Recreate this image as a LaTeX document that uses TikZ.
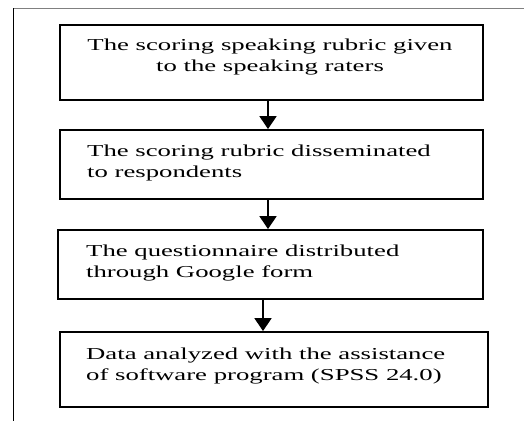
\documentclass[tikz,border=0pt]{standalone}
\usepackage{fontspec}
\setmainfont{Liberation Serif}[FakeStretch=1.6]
\usetikzlibrary{arrows.meta}

\begin{document}
\begin{tikzpicture}[x=1pt,y=-1pt,
    stepbox/.style={draw,line width=1.8pt,inner sep=0pt},
    steptext/.style={inner sep=0pt,font=\fontsize{16.7}{20.8}\selectfont},
    flow/.style={line width=1.6pt,-{Triangle[width=17pt,length=13pt]}}]
    \useasboundingbox (0,0) rectangle (524,421);
    \draw[gray,line width=0.8pt] (13,8) -- (524,8);
    \draw[line width=1pt] (13,8) -- (13,421);
    \node[stepbox,minimum width=423pt,minimum height=75pt] (b1) at (271.5,62.5) {};
    \node[stepbox,minimum width=423pt,minimum height=69pt] (b2) at (271.5,164.5) {};
    \node[stepbox,minimum width=425pt,minimum height=69pt] (b3) at (270.5,264.5) {};
    \node[stepbox,minimum width=428pt,minimum height=75pt] (b4) at (274,369.5) {};
    \node[steptext,anchor=north,align=center] (t1) at (270,39) {The scoring speaking rubric given\\to the speaking raters};
    \node[steptext,anchor=north west,align=left] (t2) at (87,145) {The scoring rubric disseminated\\to respondents};
    \node[steptext,anchor=north west,align=left] (t3) at (86,245) {The questionnaire distributed\\through Google form};
    \node[steptext,anchor=north west,align=left] (t4) at (86,348) {Data analyzed with the assistance\\of software program (SPSS 24.0)};
    \draw[flow] ([xshift=-3.5pt]b1.south) -- ([xshift=-3.5pt]b2.north);
    \draw[flow] ([xshift=-3.5pt]b2.south) -- ([xshift=-2.5pt]b3.north);
    \draw[flow] ([xshift=-7.5pt]b3.south) -- ([xshift=-11pt]b4.north);
\end{tikzpicture}
\end{document}
